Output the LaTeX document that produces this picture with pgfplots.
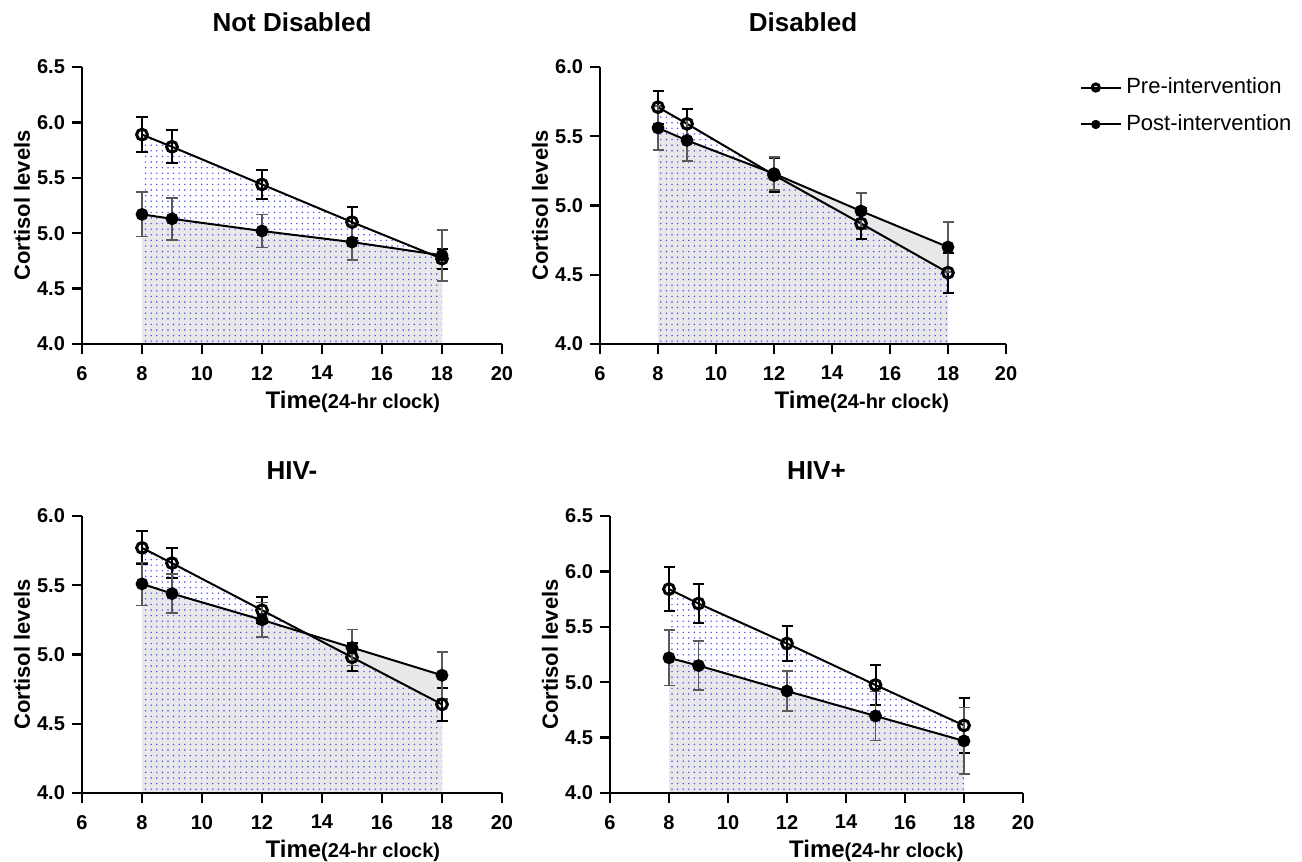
\documentclass[border=0pt]{standalone}
\usepackage{fontspec}
\setmainfont{Liberation Sans}
\usepackage{pgfplots}
\pgfplotsset{compat=1.18}
\usepackage{pgfplotstable}
\usetikzlibrary{patterns.meta}

\pgfplotstableread{
x pre pree post poste
8 5.89 0.16 5.17 0.20
9 5.78 0.15 5.13 0.19
12 5.44 0.13 5.02 0.15
15 5.10 0.14 4.92 0.16
18 4.77 0.09 4.80 0.23
}\tabND

\pgfplotstableread{
x pre pree post poste
8 5.71 0.12 5.56 0.16
9 5.59 0.11 5.47 0.15
12 5.22 0.12 5.23 0.12
15 4.87 0.11 4.96 0.13
18 4.515 0.145 4.70 0.18
}\tabD

\pgfplotstableread{
x pre pree post poste
8 5.77 0.12 5.51 0.155
9 5.66 0.11 5.44 0.14
12 5.32 0.095 5.25 0.125
15 4.98 0.10 5.05 0.13
18 4.64 0.12 4.85 0.17
}\tabHN

\pgfplotstableread{
x pre pree post poste
8 5.84 0.20 5.22 0.25
9 5.71 0.18 5.15 0.22
12 5.35 0.16 4.92 0.18
15 4.975 0.18 4.695 0.22
18 4.61 0.245 4.47 0.30
}\tabHP

\pgfplotsset{
  panel/.style={
    scale only axis, height=138.5pt,
    axis x line*=bottom, axis y line*=left,
    axis line style={line width=1.2pt, -},
    axis on top,
    tick align=outside, major tick length=5pt,
    every tick/.style={line width=1.2pt, black},
    xmin=6, xmax=20, xtick={6,8,...,20},
    ymin=4,
    /pgf/number format/assume math mode=true,
    ticklabel style={font=\bfseries\fontsize{10}{12}\selectfont},
    xticklabel style={yshift=-2.5pt},
    yticklabel style={/pgf/number format/.cd, fixed, fixed zerofill, precision=1},
    ylabel={Cortisol levels},
    ylabel style={font=\bfseries\fontsize{11}{13}\selectfont, at={(axis description cs:-0.143,0.5)}, anchor=center},
    xlabel={{\fontsize{12}{14}\selectfont Time}{\fontsize{10}{12}\selectfont(24-hr clock)}},
    xlabel style={font=\bfseries, at={(axis description cs:0.645,0)}, anchor=center, yshift=-29pt},
    title style={font=\bfseries\fontsize{13}{15}\selectfont, at={(axis description cs:0.5,1)}, anchor=center, yshift=16.5pt},
    clip=true,
  },
  prefill/.style={draw=none, forget plot, pattern={Dots[distance=2.8pt, radius=0.42pt]}, pattern color=blue!70},
  postfill/.style={draw=none, forget plot, fill=black!9},
  preline/.style={black, line width=1pt, mark=o, mark size=2.7pt, mark options={line width=1.5pt},
    error bars/.cd, y dir=both, y explicit,
    error bar style={line width=1pt, black},
    error mark options={rotate=90, mark size=2.75pt, line width=1pt, black}},
  postline/.style={black, line width=1pt, mark=*, mark size=2.7pt,
    error bars/.cd, y dir=both, y explicit,
    error bar style={line width=0.8pt, black!65},
    error mark options={rotate=90, mark size=2.75pt, line width=0.8pt, black!65}},
}

\newcommand{\panelplots}[1]{%
  \addplot[postfill] table[x=x, y=post]{#1} \closedcycle;
  \addplot[prefill] table[x=x, y=pre]{#1} \closedcycle;
  \addplot[preline] table[x=x, y=pre, y error=pree]{#1};
  \addplot[postline] table[x=x, y=post, y error=poste]{#1};
}

\begin{document}
\begin{tikzpicture}
\path[use as bounding box] (0,0) rectangle (651pt,-431pt);

\begin{axis}[panel, at={(41pt,-172pt)}, anchor=south west, width=210pt,
  ymax=6.5, ytick={4,4.5,5,5.5,6,6.5}, title={Not Disabled}]
\panelplots{\tabND}
\end{axis}

\begin{axis}[panel, at={(300pt,-172pt)}, anchor=south west, width=203pt,
  ymax=6, ytick={4,4.5,5,5.5,6}, title={Disabled},
  ylabel style={at={(axis description cs:-0.148,0.5)}},
  legend style={at={(axis description cs:1.182,0.976)}, anchor=north west, draw=none, fill=none,
    font=\fontsize{11}{13}\selectfont, row sep=5pt, inner sep=0pt},
  legend cell align=left,
  legend image code/.code={\path (0pt,0pt) -- (20pt,0pt);
    \draw[mark repeat=2, mark phase=2, #1, mark size=1.8pt] plot coordinates {(0pt,0pt) (7.25pt,0pt) (14.5pt,0pt)};}]
\panelplots{\tabD}
\legend{Pre-intervention, Post-intervention}
\end{axis}

\begin{axis}[panel, at={(41pt,-396.5pt)}, anchor=south west, width=210pt,
  ymax=6, ytick={4,4.5,5,5.5,6}, title={HIV-}]
\panelplots{\tabHN}
\end{axis}

\begin{axis}[panel, at={(305pt,-396.5pt)}, anchor=south west, width=206.5pt,
  ymax=6.5, ytick={4,4.5,5,5.5,6,6.5}, title={HIV+},
  ylabel style={at={(axis description cs:-0.145,0.5)}}]
\panelplots{\tabHP}
\end{axis}
\end{tikzpicture}
\end{document}
